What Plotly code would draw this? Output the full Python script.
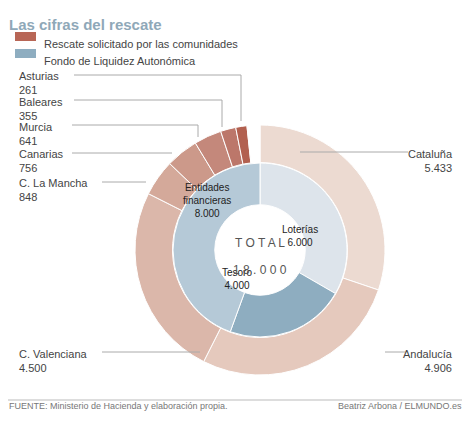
import plotly.graph_objects as go

W, H = 470, 426
PAD = 8  # page body margin in the browser

outer_labels = ["Cataluña", "Andalucía", "C. Valenciana", "C. La Mancha", "Canarias",
                "Murcia", "Baleares", "Asturias", ""]
outer_values = [5433, 4906, 4500, 848, 756, 641, 355, 261, 300]
outer_colors = ["#ecdad1", "#e5c9bd", "#dbb7aa", "#d4a99a", "#cc998a",
                "#c4887b", "#bc776a", "#b2604f", "rgba(0,0,0,0)"]

inner_labels = ["Loterías", "Tesoro", "Entidades<br>financieras"]
inner_values = [6000, 4000, 8000]
inner_colors = ["#dde4eb", "#8eadc0", "#b5c9d7"]


def px(x):
    return (x - PAD) / (W - 2 * PAD)


def py(y):
    return 1 - (y - PAD) / (H - 2 * PAD)


def fmt(v):
    return f"{v:,}".replace(",", ".")


fig = go.Figure()
fig.add_trace(go.Pie(
    labels=outer_labels, values=outer_values, sort=False, direction="clockwise",
    rotation=0, hole=0.70, textinfo="none", hoverinfo="skip",
    marker=dict(colors=outer_colors, line=dict(color="white", width=1)),
    domain=dict(x=[px(135), px(385)], y=[py(375), py(125)]),
    showlegend=False,
))
fig.add_trace(go.Pie(
    labels=inner_labels, values=inner_values, sort=False, direction="clockwise",
    rotation=0, hole=0.52, textinfo="none", hoverinfo="skip",
    marker=dict(colors=inner_colors, line=dict(color="white", width=1)),
    domain=dict(x=[px(173), px(347)], y=[py(337), py(163)]),
    showlegend=False,
))

ann = []
shapes = []
font = dict(family="Liberation Sans", size=11, color="#444")
small = dict(family="Liberation Sans", size=10, color="#222")

# inner ring labels
for (x, y), name, val in zip([(320, 236), (237, 293), (207, 200)], inner_labels, inner_values):
    ann.append(dict(x=px(x), y=py(y), xref="paper", yref="paper", text=f"{name}<br>{fmt(val)}",
                    showarrow=False, font=small, align="center"))


def label(x, y, name, val, anchor="left"):
    ann.append(dict(x=px(x), y=py(y), xref="paper", yref="paper", text=f"{name}<br>{fmt(val)}",
                    showarrow=False, xanchor=anchor, yanchor="top", align=anchor, font=font))


def line(x0, y0, x1, y1):
    shapes.append(dict(type="line", xref="paper", yref="paper", x0=px(x0), y0=py(y0), x1=px(x1), y1=py(y1),
                       line=dict(color="#aaa", width=1)))


label(17, 68, "Asturias", 261)
line(74, 75, 241, 75); line(241, 75, 241, 121)
label(17, 94, "Baleares", 355)
line(74, 100, 222, 100); line(222, 100, 222, 127)
label(17, 119, "Murcia", 641)
line(72, 125, 198, 125); line(198, 125, 198, 137)
label(17, 146, "Canarias", 756)
line(72, 153, 172, 153)
label(17, 175, "C. La Mancha", 848)
line(102, 182, 146, 182)
label(17, 346, "C. Valenciana", 4500)
line(102, 352, 200, 352)
label(455, 146, "Cataluña", 5433, "right")
line(300, 152, 408, 152)
label(455, 346, "Andalucía", 4906, "right")
line(385, 352, 405, 352)

# centre text
ann.append(dict(x=px(260), y=py(243), xref="paper", yref="paper", text="T O T A L", showarrow=False,
                font=dict(family="Liberation Sans", size=12, color="#555")))
ann.append(dict(x=px(260), y=py(270), xref="paper", yref="paper", text="1 8 . 0 0 0", showarrow=False,
                font=dict(family="Liberation Sans", size=12, color="#555")))

# title & legend
ann.append(dict(x=px(7), y=py(14), xref="paper", yref="paper", text="<b>Las cifras del rescate</b>",
                showarrow=False, xanchor="left", font=dict(family="Liberation Sans", size=15, color="#8fa8b8")))
shapes.append(dict(type="rect", xref="paper", yref="paper", x0=px(15), x1=px(36), y0=py(32), y1=py(41),
                   fillcolor="#b86656", line=dict(width=0)))
shapes.append(dict(type="rect", xref="paper", yref="paper", x0=px(15), x1=px(36), y0=py(49), y1=py(58),
                   fillcolor="#8eadc0", line=dict(width=0)))
ann.append(dict(x=px(42), y=py(36), xref="paper", yref="paper", text="Rescate solicitado por las comunidades",
                showarrow=False, xanchor="left", font=font))
ann.append(dict(x=px(42), y=py(53), xref="paper", yref="paper", text="Fondo de Liquidez Autonómica",
                showarrow=False, xanchor="left", font=font))

# footer
shapes.append(dict(type="line", xref="paper", yref="paper", x0=px(0), x1=px(W), y0=py(400), y1=py(400),
                   line=dict(color="#bbb", width=1)))
ann.append(dict(x=px(7), y=py(413), xref="paper", yref="paper",
                text="FUENTE: Ministerio de Hacienda y elaboración propia.", showarrow=False, xanchor="left",
                font=dict(family="Liberation Sans", size=9, color="#777")))
ann.append(dict(x=px(464), y=py(413), xref="paper", yref="paper", text="Beatriz Arbona / ELMUNDO.es",
                showarrow=False, xanchor="right", font=dict(family="Liberation Sans", size=9, color="#777")))

fig.update_layout(width=W - 2 * PAD, height=H - 2 * PAD, margin=dict(l=0, r=0, t=0, b=0),
                  paper_bgcolor="white", annotations=ann, shapes=shapes)
fig.write_html("out.html")
